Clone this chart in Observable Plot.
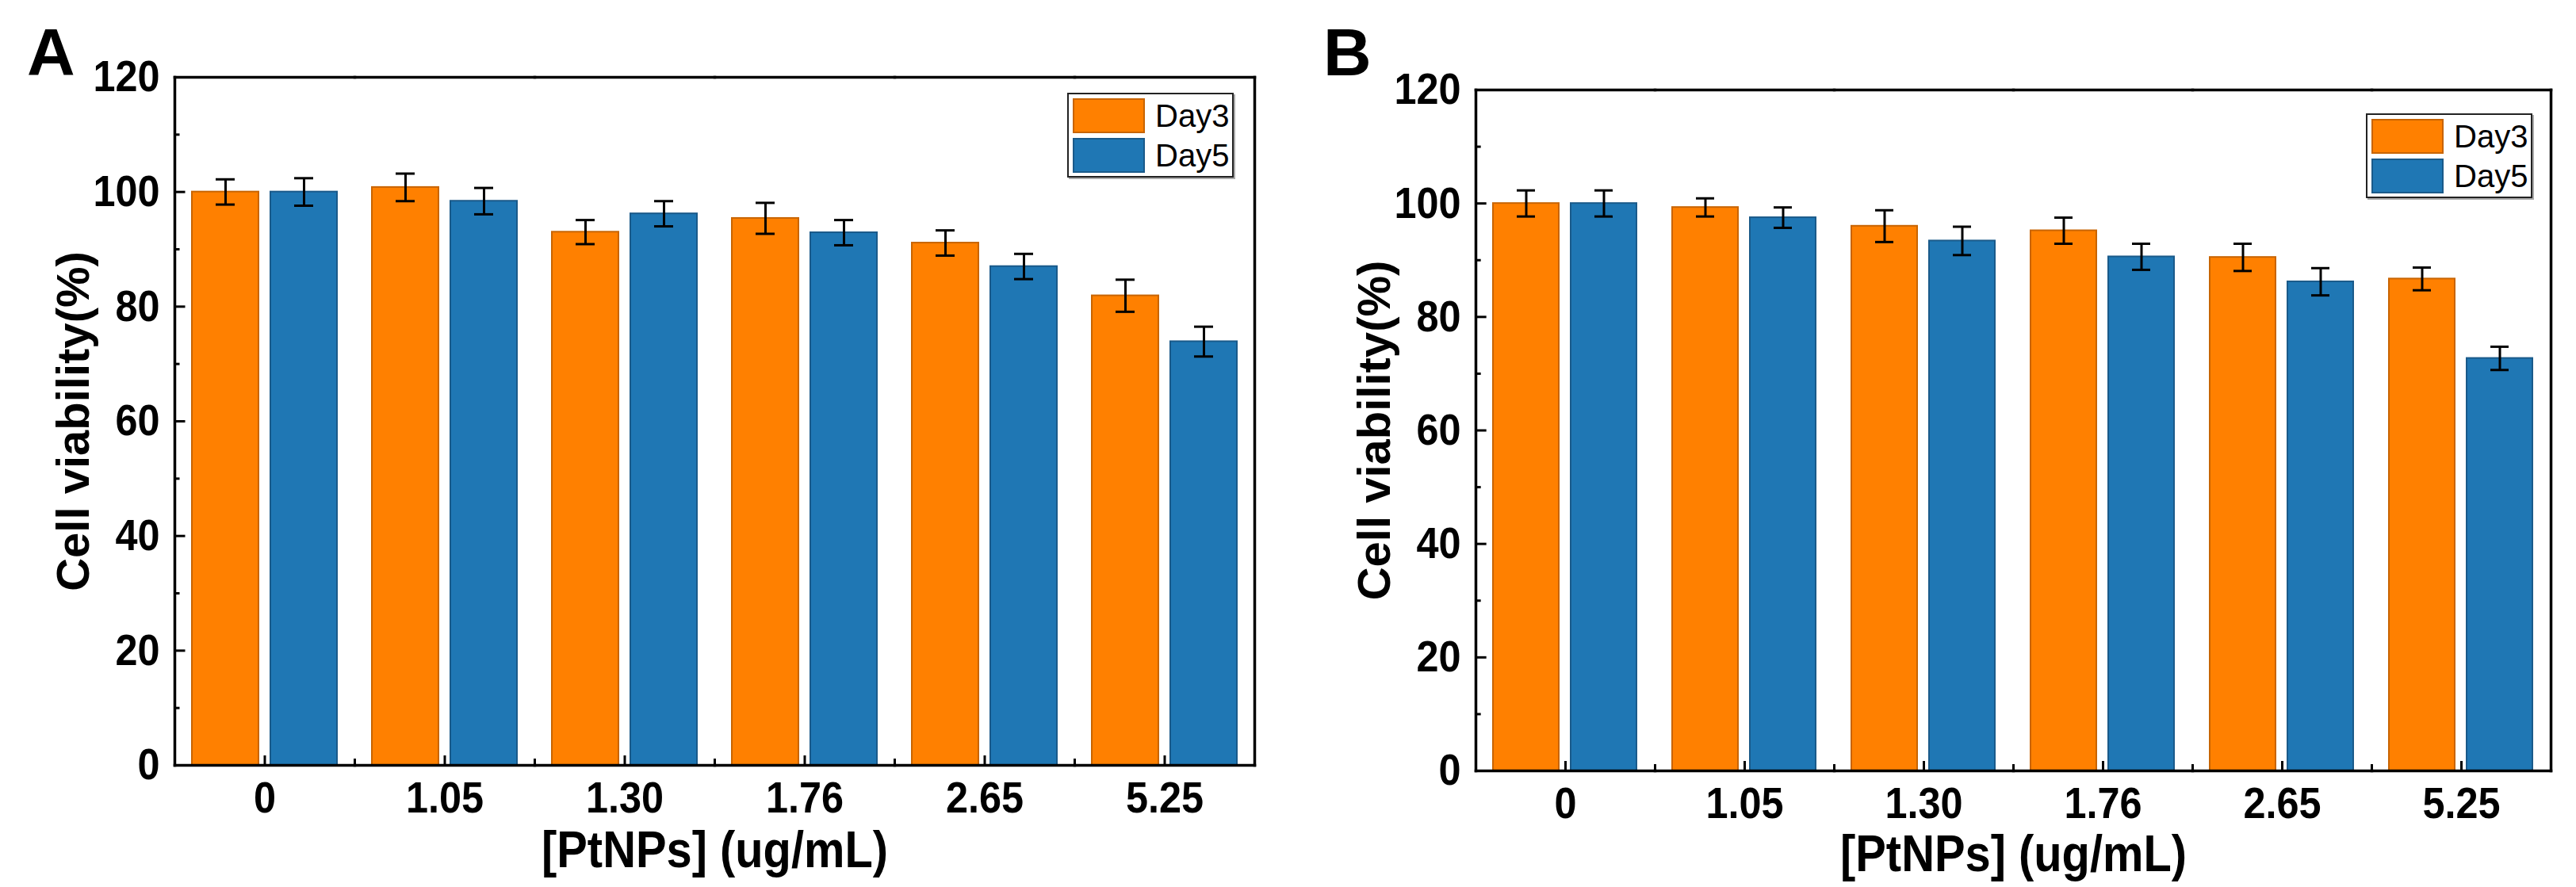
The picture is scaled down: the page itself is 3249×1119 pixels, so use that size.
<!DOCTYPE html>
<html><head><meta charset="utf-8">
<script src="https://cdn.jsdelivr.net/npm/d3@7"></script>
<script src="https://cdn.jsdelivr.net/npm/@observablehq/plot@0.6"></script>
<style>
html,body{margin:0;padding:0;background:#fff;}
#wrap{position:relative;width:3249px;height:1119px;display:flex;font-family:"Liberation Sans",Arial,sans-serif;background:#fff;}
.panel{position:relative;height:1119px;}
.letter{position:absolute;font-size:84px;font-weight:bold;line-height:84px;color:#000;}
.legend{position:absolute;width:210px;height:107px;box-sizing:border-box;border:2px solid #222;background:#fff;box-shadow:2px 2px 0 #aaa;}
.sw{position:absolute;left:5px;width:91px;height:44px;box-sizing:border-box;border:2px solid;}
.lt{position:absolute;left:109px;font-size:40px;line-height:40px;font-weight:normal;color:#000;}
</style></head><body>
<div id="wrap">
  <div class="panel" id="pA" style="width:1620px"></div>
  <div class="panel" id="pB" style="width:1629px"></div>
</div>
<script>
// ---- data ----
const concentrations = ["0", "1.05", "1.30", "1.76", "2.65", "5.25"];
const days = ["Day3", "Day5"];
const dayColors = ["#FF8000", "#1F77B4"];
const dayEdges = ["#C86400", "#1A5A8A"];
const aDay3 = [100.0, 100.8, 93.0, 95.4, 91.1, 81.9];
const aDay3Err = [2.2, 2.4, 2.1, 2.7, 2.2, 2.8];
const aDay5 = [100.0, 98.4, 96.2, 92.9, 87.0, 73.9];
const aDay5Err = [2.4, 2.3, 2.2, 2.2, 2.2, 2.6];
const bDay3 = [100.0, 99.3, 96.0, 95.2, 90.5, 86.7];
const bDay3Err = [2.3, 1.6, 2.8, 2.3, 2.4, 2.0];
const bDay5 = [100.0, 97.5, 93.4, 90.6, 86.2, 72.7];
const bDay5Err = [2.3, 1.8, 2.5, 2.3, 2.4, 2.05];
const yMajor = [0, 20, 40, 60, 80, 100, 120];
const yMinor = [10, 30, 50, 70, 90, 110];
const yLabel = "Cell viability(%)";
const xLabel = "[PtNPs] (ug/mL)";

function rowsFor(d3v, d3e, d5v, d5e) {
  const rows = [];
  concentrations.forEach((c, i) => {
    rows.push({conc: c, day: days[0], v: d3v[i], e: d3e[i]});
    rows.push({conc: c, day: days[1], v: d5v[i], e: d5e[i]});
  });
  return rows;
}

function panel(el, letter, rows, L) {
  const plotH = L.height - L.mt - L.mb;
  const fw = (L.width - L.ml - L.mr) / concentrations.length;
  const marks = [];
  days.forEach((day, k) => {
    marks.push(Plot.barY(rows.filter(r => r.day === day), {
      fx: "conc", x: "day", y: "v", fill: dayColors[k], stroke: dayEdges[k], strokeWidth: 2
    }));
  });
  marks.push(
    Plot.ruleX(rows, {fx: "conc", x: "day", y1: d => d.v - d.e, y2: d => d.v + d.e, stroke: "black", strokeWidth: 3}),
    Plot.tickY(rows, {fx: "conc", x: "day", y: d => d.v + d.e, stroke: "black", strokeWidth: 3, insetLeft: 30, insetRight: 30}),
    Plot.tickY(rows, {fx: "conc", x: "day", y: d => d.v - d.e, stroke: "black", strokeWidth: 3, insetLeft: 30, insetRight: 30}),
    // inward y ticks (left side only)
    Plot.tickY(yMajor, {y: d => d, facetAnchor: "left", insetRight: fw - 14, stroke: "black", strokeWidth: 3}),
    Plot.tickY(yMinor, {y: d => d, facetAnchor: "left", insetRight: fw - 7, stroke: "black", strokeWidth: 3}),
    // inward x ticks: major at category centres, minor between categories
    Plot.ruleX([0], {x: null, insetTop: plotH - 12, stroke: "black", strokeWidth: 3}),
    Plot.frame({anchor: "left", insetTop: plotH - 7, stroke: "black", strokeWidth: 3}),
    // box frame
    Plot.frame({anchor: "top", stroke: "black", strokeWidth: 3.5}),
    Plot.frame({anchor: "bottom", stroke: "black", strokeWidth: 3.5}),
    Plot.frame({anchor: "left", facetAnchor: "left", stroke: "black", strokeWidth: 3.5}),
    Plot.frame({anchor: "right", facetAnchor: "right", stroke: "black", strokeWidth: 3.5}),
    // axes labels
    Plot.axisY({ticks: yMajor, tickSize: 0, tickPadding: 19, fontSize: 56, fontWeight: "bold", label: null}),
    Plot.axisFx({anchor: "bottom", tickSize: 0, tickPadding: 20, fontSize: 56, fontWeight: "bold",
      label: xLabel, labelAnchor: "center", labelOffset: L.labelOffset, labelArrow: "none"}),
    Plot.text([yLabel], {text: d => d, frameAnchor: "left", textAnchor: "middle", dx: -127, rotate: -90,
      facetAnchor: "left", fontSize: 58, fontWeight: "bold", fill: "black"})
  );
  const svg = Plot.plot({
    width: L.width, height: L.height,
    marginLeft: L.ml, marginRight: L.mr, marginTop: L.mt, marginBottom: L.mb,
    style: {fontFamily: "'Liberation Sans', Arial, sans-serif", background: "white", color: "black"},
    fx: {domain: concentrations, padding: 0, axis: null, label: null},
    x: {domain: days, paddingInner: 0.152, paddingOuter: 0.222, axis: null},
    y: {domain: [0, 120], axis: null},
    marks
  });
  el.appendChild(svg);
  // condensed look of the tick labels and x title
  d3.select(svg).selectAll('g[aria-label="y-axis tick label"] text, g[aria-label="fx-axis tick label"] text')
    .each(function() {
      const t = this.getAttribute("transform") || "";
      this.setAttribute("transform", t + " scale(0.9,1)");
    });
  d3.select(svg).selectAll('g[aria-label="fx-axis label"] text')
    .style("font-size", "65px").style("font-weight", "bold")
    .each(function() {
      const t = this.getAttribute("transform") || "";
      this.setAttribute("transform", t + " scale(0.89,1)");
    });
  // panel letter
  const lt = document.createElement("div");
  lt.className = "letter"; lt.textContent = letter;
  lt.style.left = L.letterX + "px"; lt.style.top = "24px";
  el.appendChild(lt);
  // legend
  const lg = document.createElement("div");
  lg.className = "legend";
  lg.style.left = L.legX + "px"; lg.style.top = L.legY + "px";
  days.forEach((day, k) => {
    const sw = document.createElement("div");
    sw.className = "sw";
    sw.style.top = (5 + 50 * k) + "px";
    sw.style.background = dayColors[k];
    sw.style.borderColor = dayEdges[k];
    lg.appendChild(sw);
    const tx = document.createElement("div");
    tx.className = "lt"; tx.textContent = day;
    tx.style.top = (7 + 50 * k) + "px";
    lg.appendChild(tx);
  });
  el.appendChild(lg);
}

panel(document.getElementById("pA"), "A", rowsFor(aDay3, aDay3Err, aDay5, aDay5Err),
  {width: 1620, height: 1119, ml: 218, mr: 37, mt: 97, mb: 154, labelOffset: 128, letterX: 34, legX: 1346, legY: 117});
panel(document.getElementById("pB"), "B", rowsFor(bDay3, bDay3Err, bDay5, bDay5Err),
  {width: 1629, height: 1119, ml: 240, mr: 31, mt: 113, mb: 147, labelOffset: 126, letterX: 49, legX: 1364, legY: 143});
</script>
</body></html>
